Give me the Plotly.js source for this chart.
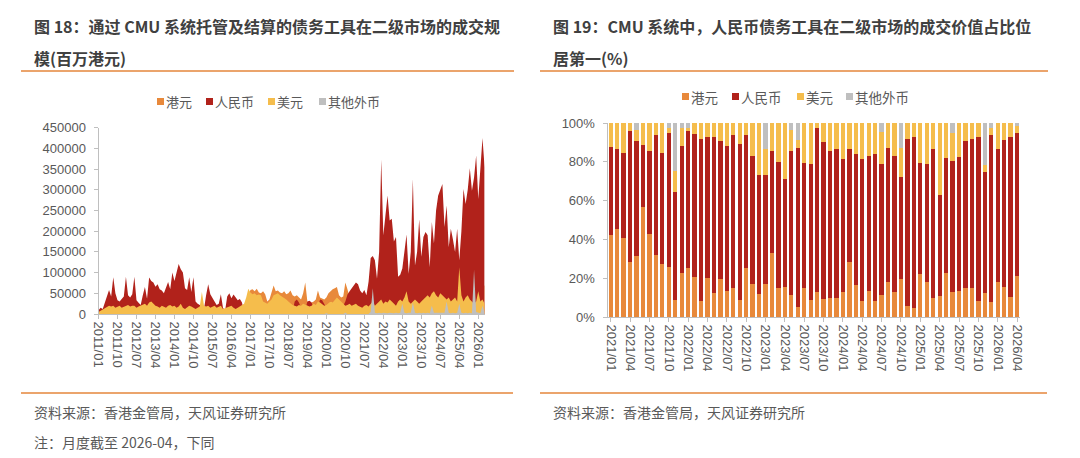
<!DOCTYPE html>
<html>
<head>
<meta charset="utf-8">
<script src="https://cdn.plot.ly/plotly-3.0.1.min.js"></script>
<style>
html,body{margin:0;padding:0;background:#fff;}
#chart{width:1080px;height:458px;}
</style>
</head>
<body>
<div id="chart"></div>
<script>
// ---------------- DATA ----------------
const seriesNames = ['港元', '人民币', '美元', '其他外币'];

// Left chart: monthly 2011/01 - 2026/04 (百万港元)
const leftHKD = [
  3000, 5000, 6000, 8000, 10000, 12000, 10000, 12000, 10000, 10000, 12000, 10000,
  10000, 12000, 12000, 10000, 12000, 12000, 10000, 10000, 12000, 12000, 15000, 12000,
  15000, 15000, 14000, 12000, 10000, 10000, 12000, 10000, 10000, 12000, 14000, 12000,
  12000, 10000, 12000, 15000, 10000, 8000, 10000, 12000, 10000, 10000, 8000, 10000,
  12000, 20000, 10000, 10000, 12000, 10000, 10000, 12000, 10000, 10000, 12000, 8000,
  10000, 10000, 12000, 12000, 10000, 8000, 10000, 12000, 12000, 15000, 30000, 45000,
  58000, 60000, 55000, 61000, 52000, 50000, 55000, 48000, 30000, 35000, 50000, 69000,
  55000, 57000, 52000, 50000, 55000, 48000, 50000, 57000, 45000, 42000, 45000, 40000,
  35000, 50000, 76000, 30000, 25000, 28000, 30000, 35000, 57000, 40000, 38000, 35000,
  40000, 50000, 55000, 60000, 62000, 65000, 45000, 40000, 42000, 76000, 60000, 40000,
  35000, 30000, 30000, 35000, 30000, 30000, 35000, 30000, 30000, 40000, 40000, 35000,
  40000, 45000, 60000, 40000, 45000, 50000, 40000, 45000, 35000, 40000, 30000, 35000,
  30000, 35000, 40000, 30000, 35000, 40000, 30000, 35000, 40000, 35000, 40000, 45000,
  40000, 35000, 45000, 40000, 50000, 45000, 50000, 55000, 45000, 50000, 40000, 45000,
  40000, 35000, 45000, 40000, 45000, 50000, 55000, 60000, 50000, 55000, 60000, 65000,
  50000, 55000, 60000, 70000
];
const leftRMB = [
  9000, 15000, 12000, 28000, 45000, 58000, 42000, 89000, 50000, 33000, 30000, 35000,
  42000, 90000, 45000, 40000, 48000, 90000, 33000, 27000, 22000, 45000, 65000, 37000,
  88000, 80000, 76000, 66000, 72000, 60000, 57000, 50000, 65000, 77000, 60000, 100000,
  80000, 100000, 121000, 108000, 100000, 62000, 58000, 89000, 53000, 89000, 30000, 25000,
  22000, 15000, 12000, 45000, 72000, 48000, 38000, 30000, 22000, 25000, 48000, 15000,
  8000, 42000, 50000, 38000, 47000, 40000, 33000, 36000, 28000, 5000, 3000, 2000,
  3000, 4000, 5000, 3000, 4000, 5000, 3000, 4000, 3000, 5000, 4000, 3000,
  5000, 4000, 6000, 5000, 4000, 6000, 5000, 5000, 8000, 30000, 35000, 28000,
  15000, 8000, 10000, 30000, 32000, 28000, 12000, 10000, 15000, 35000, 33000, 25000,
  15000, 20000, 30000, 25000, 30000, 28000, 25000, 22000, 20000, 30000, 47000, 55000,
  62000, 70000, 76000, 72000, 57000, 50000, 58000, 45000, 78000, 135000, 140000, 130000,
  85000, 150000, 373000, 190000, 240000, 286000, 226000, 230000, 175000, 186000, 90000, 95000,
  110000, 150000, 192000, 97000, 150000, 326000, 117000, 150000, 229000, 138000, 186000, 198000,
  190000, 113000, 222000, 170000, 250000, 286000, 300000, 314000, 210000, 262000, 161000, 206000,
  180000, 150000, 206000, 130000, 200000, 302000, 266000, 300000, 352000, 298000, 330000, 383000,
  278000, 350000, 425000, 354000
];
const leftUSD = [
  5000, 8000, 10000, 15000, 18000, 20000, 18000, 20000, 15000, 18000, 20000, 15000,
  18000, 20000, 22000, 18000, 20000, 20000, 15000, 18000, 20000, 22000, 25000, 20000,
  28000, 30000, 25000, 20000, 18000, 15000, 20000, 18000, 15000, 20000, 22000, 18000,
  20000, 15000, 18000, 25000, 15000, 12000, 15000, 20000, 18000, 15000, 12000, 15000,
  18000, 53000, 20000, 18000, 20000, 15000, 18000, 20000, 15000, 18000, 20000, 12000,
  14000, 15000, 18000, 20000, 15000, 12000, 15000, 18000, 20000, 25000, 40000, 61000,
  52000, 48000, 50000, 45000, 47000, 45000, 30000, 28000, 25000, 30000, 35000, 45000,
  48000, 50000, 45000, 42000, 38000, 35000, 30000, 25000, 22000, 20000, 18000, 22000,
  20000, 25000, 22000, 20000, 18000, 20000, 25000, 22000, 30000, 28000, 25000, 20000,
  22000, 25000, 30000, 28000, 35000, 40000, 35000, 30000, 25000, 20000, 22000, 25000,
  20000, 22000, 25000, 20000, 18000, 15000, 20000, 22000, 18000, 25000, 30000, 20000,
  25000, 30000, 35000, 25000, 30000, 28000, 35000, 30000, 25000, 20000, 30000, 35000,
  30000, 40000, 55000, 30000, 25000, 30000, 35000, 30000, 25000, 30000, 35000, 40000,
  45000, 40000, 50000, 55000, 45000, 40000, 50000, 45000, 40000, 35000, 40000, 30000,
  35000, 40000, 30000, 113000, 45000, 30000, 40000, 45000, 35000, 30000, 25000, 30000,
  55000, 30000, 35000, 25000
];
const leftOther = [
  0, 0, 0, 0, 0, 0, 0, 0, 0, 0, 0, 0,
  0, 0, 0, 0, 0, 0, 0, 0, 0, 0, 0, 0,
  0, 0, 0, 0, 0, 0, 0, 0, 0, 0, 0, 0,
  0, 0, 0, 0, 0, 0, 0, 0, 0, 0, 0, 0,
  0, 0, 0, 0, 0, 0, 0, 0, 0, 0, 0, 0,
  0, 0, 0, 0, 0, 0, 0, 0, 0, 0, 0, 0,
  0, 0, 0, 0, 0, 0, 0, 0, 0, 0, 0, 0,
  0, 0, 0, 0, 0, 0, 0, 0, 0, 0, 0, 0,
  0, 0, 0, 0, 0, 0, 0, 0, 0, 0, 0, 0,
  2000, 0, 0, 0, 0, 0, 0, 0, 0, 3000, 0, 0,
  0, 0, 0, 0, 0, 0, 0, 0, 0, 5000, 62000, 3000,
  2000, 3000, 2000, 3000, 2000, 2000, 3000, 2000, 2000, 3000, 2000, 3000,
  25000, 3000, 2000, 3000, 3000, 28000, 3000, 2000, 3000, 2000, 3000, 2000,
  3000, 2000, 20000, 3000, 3000, 2000, 3000, 2000, 3000, 30000, 3000, 2000,
  3000, 2000, 3000, 25000, 3000, 2000, 3000, 2000, 3000, 2000, 107000, 5000,
  3000, 2000, 20000, 3000
];
const leftTickLabels = ['2011/01','2011/10','2012/07','2013/04','2014/01','2014/10','2015/07',
  '2016/04','2017/01','2017/10','2018/07','2019/04','2020/01','2020/10','2021/07','2022/04',
  '2023/01','2023/10','2024/07','2025/04','2026/01'];

// Right chart: monthly shares 2021/01 - 2026/04 (%)
const rightHKD = [42.3,45.4,40.5,28.2,31.4,56.9,42.8,32.0,27.1,26.0,
  8.8,22.9,25.3,20.6,8.2,19.9,12.5,19.6,13.4,14.8,
  8.8,25.1,16.8,11.7,16.8,33.2,15.1,15.6,11.3,5.3,
  15.1,8.8,13.0,9.3,10.0,10.0,13.0,28.2,16.3,8.4,
  13.6,8.4,11.3,18.2,13.0,19.6,5.9,4.7,22.2,18.2,
  10.0,10.9,22.9,13.0,13.6,14.7,15.2,8.4,12.5,7.6,
  18.1,15.6,10.2,21.1];
const rightRMB = [45.5,41.2,43.9,67.7,59.5,31.8,42.8,61.8,57.3,68.7,
  55.5,65.2,70.6,73.7,83.4,73.1,80.1,71.3,74.7,79.0,
  80.4,68.7,66.2,61.5,56.4,52.4,64.6,55.4,74.3,82.0,
  64.1,70.1,84.6,81.1,75.6,76.4,68.3,58.5,67.7,72.9,
  69.4,75.4,67.6,69.1,70.0,52.8,85.9,87.9,57.4,60.7,
  76.7,52.1,58.9,67.6,68.7,76.2,76.6,84.6,62.4,86.0,
  68.6,75.7,82.4,73.6];
const rightUSD = [12.2,13.4,15.6,4.1,5.5,11.3,14.4,6.2,15.6,2.6,
  11.0,9.2,1.7,5.7,8.4,7.0,7.4,9.1,11.9,6.2,
  10.8,6.2,17.0,26.8,13.2,14.4,20.3,29.0,10.9,3.9,
  20.8,21.1,2.4,9.6,14.4,13.6,18.7,13.3,16.0,18.7,
  17.0,16.2,16.6,12.7,17.0,14.6,8.2,7.4,20.4,21.1,
  13.3,37.0,18.2,14.2,17.7,9.1,8.2,7.0,3.7,3.6,
  13.3,8.7,7.4,3.9];
const rightOther = [0,0,0,0,3.6,0,0,0,0,2.7,
  24.7,2.7,2.4,0,0,0,0,0,0,0,
  0,0,0,0,13.6,0,0,0,3.5,8.8,
  0,0,0,0,0,0,0,0,0,0,
  0,0,4.5,0,0,13.0,0,0,0,0,
  0,0,0,5.2,0,0,0,0,21.4,2.8,
  0,0,0,1.4];
const rightTickLabels = ['2021/01','2021/04','2021/07','2021/10','2022/01','2022/04','2022/07',
  '2022/10','2023/01','2023/04','2023/07','2023/10','2024/01','2024/04','2024/07','2024/10',
  '2025/01','2025/04','2025/07','2025/10','2026/01','2026/04'];

// ---------------- BUILD ----------------
function monthLabels(y0, m0, y1, m1) {
  const out = [];
  let y = y0, m = m0;
  while (y < y1 || (y === y1 && m <= m1)) {
    out.push(y + '/' + (m < 10 ? '0' + m : '' + m));
    m++; if (m > 12) { m = 1; y++; }
  }
  return out;
}
const leftMonths = monthLabels(2011, 1, 2026, 4);
const rightMonths = monthLabels(2021, 1, 2026, 4);

const colors = ['#E8893B', '#B1221B', '#F5BD4C', '#BFBFBF'];
const W = 1080, H = 458;
const px = v => v / W;
const py = v => 1 - v / H;

const leftSeries = [leftHKD, leftRMB, leftUSD, leftOther];
const rightSeries = [rightHKD, rightRMB, rightUSD, rightOther];

const traces = [];
leftSeries.forEach((ys, i) => {
  traces.push({
    type: 'scatter', mode: 'lines', x: leftMonths, y: ys,
    fill: 'tozeroy', fillcolor: colors[i],
    line: {width: 0, color: colors[i]},
    xaxis: 'x', yaxis: 'y', name: seriesNames[i], showlegend: false, hoverinfo: 'skip'
  });
});
rightSeries.forEach((ys, i) => {
  traces.push({
    type: 'bar', x: rightMonths, y: ys, marker: {color: colors[i], line: {width: 0}},
    xaxis: 'x2', yaxis: 'y2', name: seriesNames[i], showlegend: false, hoverinfo: 'skip'
  });
});

const tickFont = {family: 'Liberation Sans, Arial, Noto Sans CJK SC, sans-serif', size: 13, color: '#595959'};
const axisColor = '#BFBFBF';

const layout = {
  width: W, height: H,
  margin: {l: 0, r: 0, t: 0, b: 0},
  paper_bgcolor: '#ffffff', plot_bgcolor: '#ffffff',
  barmode: 'stack', bargap: 0.33,
  showlegend: false,
  xaxis: {
    type: 'category', domain: [px(98.5), px(484.6)], range: [0, 183], anchor: 'y',
    tickmode: 'array', tickvals: leftTickLabels, ticktext: leftTickLabels, tickangle: 90,
    ticks: 'outside', ticklen: 4, tickcolor: axisColor, showline: true, linecolor: axisColor,
    showgrid: false, zeroline: false, tickfont: tickFont, fixedrange: true
  },
  yaxis: {
    domain: [py(314), py(127.7)], range: [0, 450000], anchor: 'x',
    tickmode: 'linear', tick0: 0, dtick: 50000, tickformat: 'd',
    ticks: 'outside', ticklen: 4, tickcolor: axisColor, showline: true, linecolor: axisColor,
    showgrid: false, zeroline: false, tickfont: tickFont, ticklabelstandoff: 5, fixedrange: true
  },
  xaxis2: {
    type: 'category', domain: [px(607.5), px(1020.3)], range: [-0.5, 63.5], anchor: 'y2',
    tickmode: 'array', tickvals: rightTickLabels, ticktext: rightTickLabels, tickangle: 90,
    ticks: 'outside', ticklen: 4, tickcolor: axisColor, showline: true, linecolor: axisColor,
    showgrid: false, zeroline: false, tickfont: tickFont, fixedrange: true
  },
  yaxis2: {
    domain: [py(317), py(123)], range: [0, 100], anchor: 'x2',
    tickmode: 'linear', tick0: 0, dtick: 20, ticksuffix: '%',
    ticks: 'outside', ticklen: 4, tickcolor: axisColor, showline: true, linecolor: axisColor,
    showgrid: false, zeroline: false, tickfont: tickFont, ticklabelstandoff: 5, fixedrange: true
  },
  shapes: [],
  annotations: []
};

const lineColor = '#EBA46C';
[[21, 514, 71], [540, 1048, 71], [21, 513, 393], [540, 1047, 393]].forEach(l => {
  layout.shapes.push({type: 'line', xref: 'paper', yref: 'paper',
    x0: px(l[0]), x1: px(l[1]), y0: py(l[2]), y1: py(l[2]),
    line: {color: lineColor, width: 2}});
});

const cjk = 'Noto Sans CJK SC, sans-serif';
function addText(text, x, y, size, color, bold) {
  layout.annotations.push({
    text: bold ? '<b>' + text + '</b>' : text, xref: 'paper', yref: 'paper',
    x: px(x), y: py(y), xanchor: 'left', yanchor: 'middle', showarrow: false,
    font: {family: cjk, size: size, color: color}
  });
}
addText('图 18：通过 CMU 系统托管及结算的债务工具在二级市场的成交规', 32, 26, 16, '#404040', true);
addText('模(百万港元)', 32, 58, 16, '#404040', true);
addText('图 19：CMU 系统中，人民币债务工具在二级市场的成交价值占比位', 551, 26, 16, '#404040', true);
addText('居第一(%)', 551, 58, 16, '#404040', true);
addText('资料来源：香港金管局，天风证券研究所', 32, 412, 14, '#595959', false);
addText('注：月度截至 2026-04，下同', 32, 442, 14, '#595959', false);
addText('资料来源：香港金管局，天风证券研究所', 551, 412, 14, '#595959', false);

// legends (square + label)
function legendItem(sqX, textX, y, i, size) {
  layout.shapes.push({type: 'rect', xref: 'paper', yref: 'paper',
    x0: px(sqX), x1: px(sqX + 7), y0: py(y + 3.5), y1: py(y - 3.5),
    fillcolor: colors[i], line: {width: 0}});
  addText(seriesNames[i], textX, y, size, '#595959', false);
}
legendItem(157, 164, 101.5, 0, 13);
legendItem(206, 213, 101.5, 1, 13);
legendItem(268, 275, 101.5, 2, 13);
legendItem(319, 326, 101.5, 3, 13);

legendItem(682, 689, 96.5, 0, 13.5);
legendItem(732, 739, 96.5, 1, 13.5);
legendItem(797, 804, 96.5, 2, 13.5);
legendItem(846, 853, 96.5, 3, 13.5);

Plotly.newPlot('chart', traces, layout, {displayModeBar: false, staticPlot: true});
</script>
</body>
</html>
